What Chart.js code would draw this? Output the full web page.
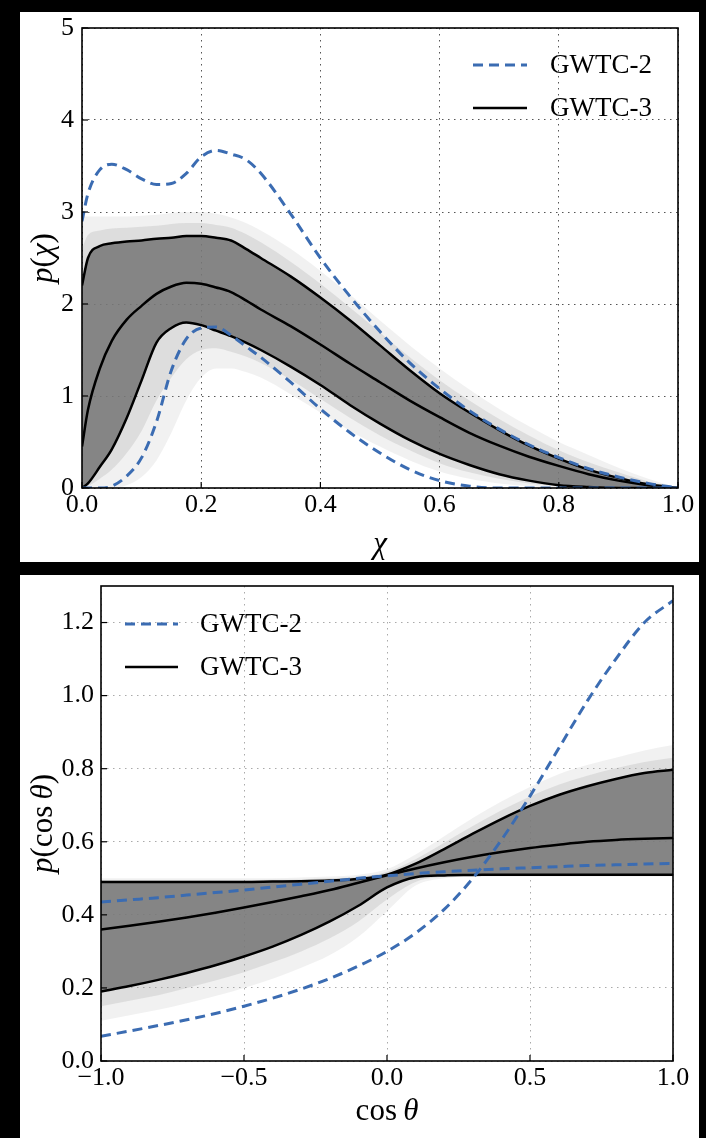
<!DOCTYPE html>
<html><head><meta charset="utf-8">
<script src="https://cdn.jsdelivr.net/npm/chart.js@4.4.0/dist/chart.umd.min.js"></script>
<style>
html,body{margin:0;padding:0;background:#000;width:706px;height:1138px;overflow:hidden;}
.panel{position:absolute;background:#fff;}
#p1{left:20px;top:12px;width:679px;height:550px;}
#p2{left:20px;top:575px;width:679px;height:563px;}
canvas{display:block;}
</style></head><body>
<div class="panel" id="p1"><canvas id="c1" width="679" height="550"></canvas></div>
<div class="panel" id="p2"><canvas id="c2" width="679" height="563"></canvas></div>
<script>
// ---------- Top panel: p(chi) ----------
const chi = [0,0.01,0.03,0.05,0.075,0.1,0.125,0.15,0.175,0.2,0.225,0.25,0.275,0.3,0.35,0.4,0.45,0.5,0.55,0.6,0.65,0.7,0.75,0.8,0.85,0.9,0.95,1.0];
const gwtc2ChiUpper = [2.9,3.2,3.46,3.52,3.46,3.36,3.3,3.31,3.42,3.6,3.67,3.63,3.57,3.42,2.98,2.5,2.08,1.7,1.36,1.08,0.84,0.64,0.47,0.33,0.21,0.12,0.05,0];
const gwtc2ChiLower = [0,0,0,0.02,0.13,0.33,0.72,1.28,1.62,1.74,1.75,1.66,1.54,1.42,1.15,0.86,0.6,0.38,0.2,0.08,0.02,0,0,0,0,0,0,0];
const gwtc3ChiUpper = [2.2,2.5,2.63,2.66,2.68,2.69,2.71,2.72,2.74,2.74,2.72,2.69,2.6,2.5,2.3,2.07,1.82,1.55,1.28,1.03,0.82,0.63,0.46,0.32,0.2,0.11,0.04,0];
const gwtc3ChiMedian = [0.45,0.85,1.3,1.6,1.83,1.98,2.11,2.19,2.23,2.22,2.18,2.13,2.04,1.94,1.76,1.56,1.35,1.15,0.95,0.77,0.6,0.46,0.34,0.24,0.15,0.08,0.03,0];
const gwtc3ChiLower = [0,0.05,0.23,0.42,0.76,1.17,1.58,1.74,1.8,1.77,1.71,1.65,1.58,1.5,1.32,1.12,0.9,0.7,0.52,0.37,0.25,0.15,0.08,0.03,0.01,0,0,0];
const tracesChiMidHigh = [2.6,2.75,2.8,2.82,2.83,2.84,2.85,2.87,2.88,2.88,2.86,2.83,2.76,2.67,2.46,2.22,1.96,1.69,1.42,1.17,0.95,0.75,0.57,0.41,0.28,0.17,0.07,0];
const tracesChiMidLow = [0,0.02,0.1,0.2,0.38,0.62,0.95,1.2,1.4,1.5,1.52,1.48,1.43,1.36,1.18,0.97,0.76,0.57,0.41,0.27,0.17,0.1,0.05,0.02,0,0,0,0];
const tracesChiHigh = [2.95,2.95,2.95,2.95,2.95,2.96,2.97,2.99,3.0,3.0,2.98,2.94,2.88,2.8,2.6,2.36,2.1,1.82,1.55,1.3,1.07,0.86,0.67,0.5,0.36,0.22,0.1,0];
const tracesChiLow = [0,0,0,0,0.03,0.12,0.3,0.6,0.95,1.2,1.3,1.3,1.26,1.2,1.02,0.82,0.62,0.45,0.3,0.18,0.1,0.05,0.02,0,0,0,0,0];
const chiTicks = [0,0.2,0.4,0.6,0.8,1.0];
const chiTickLabels = ['0.0','0.2','0.4','0.6','0.8','1.0'];
const pChiTicks = [0,1,2,3,4,5];
const pChiTickLabels = ['0','1','2','3','4','5'];

// ---------- Bottom panel: p(cos theta) ----------
const cosT = [-1,-0.9,-0.8,-0.7,-0.6,-0.5,-0.4,-0.3,-0.2,-0.1,0,0.1,0.2,0.3,0.4,0.5,0.6,0.7,0.8,0.9,1];
const gwtc2CosUpper = [0.068,0.082,0.097,0.113,0.13,0.15,0.172,0.197,0.226,0.26,0.3,0.35,0.415,0.5,0.605,0.725,0.855,0.985,1.1,1.2,1.26];
const gwtc2CosLower = [0.435,0.441,0.447,0.454,0.461,0.468,0.476,0.484,0.492,0.5,0.507,0.513,0.518,0.522,0.526,0.529,0.532,0.535,0.537,0.539,0.541];
const gwtc3CosUpper = [0.49,0.49,0.49,0.49,0.49,0.49,0.491,0.492,0.494,0.498,0.51,0.54,0.58,0.622,0.662,0.698,0.728,0.752,0.772,0.788,0.797];
const gwtc3CosMedian = [0.36,0.37,0.381,0.393,0.406,0.42,0.435,0.451,0.468,0.488,0.508,0.527,0.544,0.559,0.572,0.583,0.592,0.6,0.605,0.608,0.61];
const gwtc3CosLower = [0.19,0.205,0.222,0.241,0.262,0.286,0.313,0.345,0.382,0.425,0.475,0.503,0.508,0.509,0.51,0.51,0.51,0.51,0.51,0.51,0.51];
const tracesCosMidHigh = [0.495,0.495,0.495,0.495,0.495,0.495,0.496,0.497,0.5,0.504,0.518,0.552,0.597,0.643,0.686,0.724,0.756,0.781,0.801,0.818,0.83];
const tracesCosMidLow = [0.15,0.165,0.18,0.2,0.22,0.243,0.27,0.3,0.336,0.382,0.442,0.49,0.504,0.507,0.507,0.507,0.507,0.507,0.507,0.507,0.507];
const tracesCosHigh = [0.5,0.5,0.5,0.5,0.5,0.5,0.5,0.502,0.505,0.51,0.525,0.565,0.615,0.665,0.71,0.75,0.785,0.81,0.83,0.85,0.865];
const tracesCosLow = [0.11,0.125,0.14,0.158,0.178,0.2,0.225,0.255,0.29,0.34,0.41,0.48,0.5,0.505,0.505,0.505,0.505,0.505,0.505,0.505,0.505];
const cosTicks = [-1,-0.5,0,0.5,1];
const cosTickLabels = ['\u22121.0','\u22120.5','0.0','0.5','1.0'];
const pCosTicks = [0,0.2,0.4,0.6,0.8,1.0,1.2];
const pCosTickLabels = ['0.0','0.2','0.4','0.6','0.8','1.0','1.2'];

const BLUE = '#3b6cb2';
const SERIF = '"Liberation Serif", "DejaVu Serif", serif';

function series(label, xs, ys, opts) {
  return Object.assign({
    label: label,
    data: xs.map((x, i) => ({x: x, y: ys[i]})),
    pointRadius: 0, borderWidth: 0, fill: false,
    cubicInterpolationMode: 'monotone'
  }, opts);
}

function richWidth(ctx, parts, size) {
  let w = 0;
  parts.forEach(p => { ctx.font = (p[1] ? 'italic ' : '') + size + 'px ' + SERIF; w += ctx.measureText(p[0]).width; });
  return w;
}
function drawRich(ctx, parts, cx, cy, rot, size) {
  ctx.save();
  ctx.translate(cx, cy);
  ctx.rotate(rot);
  ctx.fillStyle = '#000';
  ctx.textBaseline = 'alphabetic';
  ctx.textAlign = 'left';
  let x = -richWidth(ctx, parts, size) / 2;
  parts.forEach(p => {
    ctx.font = (p[1] ? 'italic ' : '') + size + 'px ' + SERIF;
    ctx.fillText(p[0], x, 0);
    x += ctx.measureText(p[0]).width;
  });
  ctx.restore();
}

const decor = {
  id: 'decor',
  afterDraw(chart, args, o) {
    const ctx = chart.ctx, a = chart.chartArea, xs = chart.scales.x, ys = chart.scales.y;
    ctx.save();
    ctx.setLineDash([]);
    ctx.strokeStyle = '#000';
    ctx.lineWidth = 1.2;
    xs.ticks.forEach(t => { const p = xs.getPixelForValue(t.value); ctx.beginPath(); ctx.moveTo(p, a.bottom); ctx.lineTo(p, a.bottom - 6); ctx.stroke(); });
    ys.ticks.forEach(t => { const p = ys.getPixelForValue(t.value); ctx.beginPath(); ctx.moveTo(a.left, p); ctx.lineTo(a.left + 6, p); ctx.stroke(); });
    ctx.lineWidth = 1.6;
    ctx.strokeRect(a.left, a.top, a.right - a.left, a.bottom - a.top);
    // legend
    o.legend.forEach(it => {
      const ds = chart.data.datasets[it.ds];
      ctx.save();
      ctx.strokeStyle = ds.borderColor;
      ctx.lineWidth = ds.borderWidth;
      ctx.setLineDash(ds.borderDash || []);
      ctx.beginPath(); ctx.moveTo(it.x0, it.y); ctx.lineTo(it.x1, it.y); ctx.stroke();
      ctx.restore();
      ctx.fillStyle = '#000';
      ctx.font = '27px ' + SERIF;
      ctx.textBaseline = 'middle';
      ctx.textAlign = 'left';
      ctx.fillText(ds.label, it.tx, it.y + 1);
    });
    // axis titles
    drawRich(ctx, o.xTitle, (a.left + a.right) / 2, o.xTitleY, 0, o.titleSize);
    drawRich(ctx, o.yTitle, o.yTitleX, (a.top + a.bottom) / 2, -Math.PI / 2, o.titleSize);
    ctx.restore();
  }
};

function makeChart(id, cfg) {
  return new Chart(document.getElementById(id), {
    type: 'line',
    data: {datasets: cfg.datasets},
    plugins: [decor],
    options: {
      responsive: false, animation: false, events: [],
      layout: {padding: cfg.padding},
      plugins: {
        legend: {display: false}, tooltip: {enabled: false},
        filler: {drawTime: 'beforeDatasetsDraw', propagate: false},
        decor: cfg.decor
      },
      scales: {
        x: {
          type: 'linear', min: cfg.xMin, max: cfg.xMax, z: 1,
          afterBuildTicks: s => { s.ticks = cfg.xTicks.map(v => ({value: v})); },
          afterFit: s => { s.height = cfg.xHeight; s.paddingLeft = 0; s.paddingRight = 0; },
          grid: {color: cfg.gridColor, lineWidth: 1, drawTicks: false},
          border: {display: false, dash: [1.5, 4.5]},
          ticks: {autoSkip: false, maxRotation: 0, padding: cfg.xTickPad, color: '#000',
                  font: {family: SERIF, size: 26},
                  callback: (v, i) => cfg.xLabels[i]}
        },
        y: {
          type: 'linear', min: cfg.yMin, max: cfg.yMax, z: 1,
          afterBuildTicks: s => { s.ticks = cfg.yTicks.map(v => ({value: v})); },
          afterFit: s => { s.width = cfg.yWidth; s.paddingTop = 0; s.paddingBottom = 0; },
          grid: {color: cfg.gridColor, lineWidth: 1, drawTicks: false},
          border: {display: false, dash: [1.5, 4.5]},
          ticks: {autoSkip: false, padding: cfg.yTickPad, color: '#000',
                  font: {family: SERIF, size: 26},
                  callback: (v, i) => cfg.yLabels[i]}
        }
      }
    }
  });
}

const BAND = 'rgba(118,118,118,0.85)';
const MID = 'rgba(150,150,150,0.22)';
const OUTER = 'rgba(170,170,170,0.16)';
const NONE = 'rgba(0,0,0,0)';

makeChart('c1', {
  datasets: [
    series('GWTC-2', chi, gwtc2ChiUpper, {borderColor: BLUE, borderWidth: 3, borderDash: [10, 6]}),
    series('GWTC-2 (lower)', chi, gwtc2ChiLower, {borderColor: BLUE, borderWidth: 3, borderDash: [10, 6]}),
    series('GWTC-3', chi, gwtc3ChiMedian, {borderColor: '#000', borderWidth: 2.5}),
    series('GWTC-3 upper', chi, gwtc3ChiUpper, {borderColor: '#000', borderWidth: 2.5, fill: '+1', backgroundColor: BAND}),
    series('GWTC-3 lower', chi, gwtc3ChiLower, {borderColor: '#000', borderWidth: 2.5}),
    series('traces mid high', chi, tracesChiMidHigh, {borderColor: NONE, fill: '+1', backgroundColor: MID}),
    series('traces mid low', chi, tracesChiMidLow, {borderColor: NONE}),
    series('traces high', chi, tracesChiHigh, {borderColor: NONE, fill: '+1', backgroundColor: OUTER}),
    series('traces low', chi, tracesChiLow, {borderColor: NONE})
  ],
  padding: {left: 2, right: 21, top: 16, bottom: 0},
  xMin: 0, xMax: 1, yMin: 0, yMax: 5,
  xTicks: chiTicks, xLabels: chiTickLabels, yTicks: pChiTicks, yLabels: pChiTickLabels,
  xHeight: 74, yWidth: 60, xTickPad: 2, yTickPad: 8, gridColor: '#555',
  decor: {
    legend: [{ds: 0, x0: 453, x1: 507, tx: 530, y: 53}, {ds: 2, x0: 453, x1: 507, tx: 530, y: 96}],
    xTitle: [['\u03c7', true]], xTitleY: 541,
    yTitle: [['p', true], ['(', false], ['\u03c7', true], [')', false]], yTitleX: 32,
    titleSize: 31
  }
});

makeChart('c2', {
  datasets: [
    series('GWTC-2', cosT, gwtc2CosUpper, {borderColor: BLUE, borderWidth: 3, borderDash: [10, 6]}),
    series('GWTC-2 (flat)', cosT, gwtc2CosLower, {borderColor: BLUE, borderWidth: 3, borderDash: [10, 6]}),
    series('GWTC-3', cosT, gwtc3CosMedian, {borderColor: '#000', borderWidth: 2.5}),
    series('GWTC-3 upper', cosT, gwtc3CosUpper, {borderColor: '#000', borderWidth: 2.5, fill: '+1', backgroundColor: BAND}),
    series('GWTC-3 lower', cosT, gwtc3CosLower, {borderColor: '#000', borderWidth: 2.5}),
    series('traces mid high', cosT, tracesCosMidHigh, {borderColor: NONE, fill: '+1', backgroundColor: MID}),
    series('traces mid low', cosT, tracesCosMidLow, {borderColor: NONE}),
    series('traces high', cosT, tracesCosHigh, {borderColor: NONE, fill: '+1', backgroundColor: OUTER}),
    series('traces low', cosT, tracesCosLow, {borderColor: NONE})
  ],
  padding: {left: 2, right: 26, top: 11, bottom: 0},
  xMin: -1, xMax: 1, yMin: 0, yMax: 1.3,
  xTicks: cosTicks, xLabels: cosTickLabels, yTicks: pCosTicks, yLabels: pCosTickLabels,
  xHeight: 77, yWidth: 79, xTickPad: 2, yTickPad: 7, gridColor: '#aaa',
  decor: {
    legend: [{ds: 0, x0: 105, x1: 158, tx: 180, y: 49}, {ds: 2, x0: 105, x1: 158, tx: 180, y: 92}],
    xTitle: [['cos\u2009', false], ['\u03b8', true]], xTitleY: 545,
    yTitle: [['p', true], ['(cos\u2009', false], ['\u03b8', true], [')', false]], yTitleX: 32,
    titleSize: 31
  }
});
</script>
</body></html>
